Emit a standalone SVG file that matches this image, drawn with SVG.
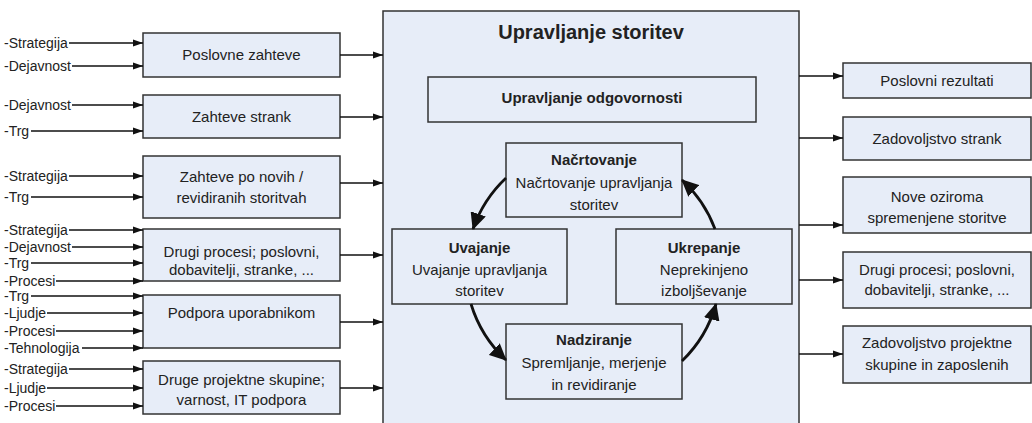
<svg xmlns="http://www.w3.org/2000/svg" width="1032" height="423" viewBox="0 0 1032 423">
<defs>
<style>
.box{fill:#e7edf8;stroke:#333;stroke-width:1.5}
.t{font-family:"Liberation Sans",Arial,sans-serif;font-size:15px;fill:#222;text-anchor:middle}
.b{font-weight:bold}
.lbl{font-family:"Liberation Sans",Arial,sans-serif;font-size:14px;fill:#222}
.ln{stroke:#111;stroke-width:1.3;fill:none;marker-end:url(#ah)}
.cv{stroke:#111;stroke-width:2.8;fill:none;marker-end:url(#ahb)}
</style>
<marker id="ah" markerWidth="10" markerHeight="8" refX="10" refY="4" orient="auto" markerUnits="userSpaceOnUse"><path d="M0,0.5 L10,4 L0,7.5 z" fill="#111"/></marker>
<marker id="ahb" markerWidth="17" markerHeight="16" refX="16" refY="8" orient="auto" markerUnits="userSpaceOnUse"><path d="M0,0 L17,8 L0,16 z" fill="#111"/></marker>
</defs>
<rect width="1032" height="423" fill="#fff"/>

<g id="main">
<rect class="box" x="383" y="11" width="416" height="420"/>
<text class="t b" x="591" y="39" style="font-size:20px">Upravljanje storitev</text>
</g>

<g id="odgovornost">
<rect class="box" x="428" y="77" width="328" height="45"/>
<text class="t b" x="592" y="103">Upravljanje odgovornosti</text>
</g>

<g id="nacrtovanje">
<rect class="box" x="506" y="143" width="176" height="74"/>
<text class="t b" x="594" y="165">Načrtovanje</text>
<text class="t" x="594" y="188">Načrtovanje upravljanja</text>
<text class="t" x="594" y="210">storitev</text>
</g>

<g id="uvajanje">
<rect class="box" x="392" y="229" width="175" height="75"/>
<text class="t b" x="479.5" y="253">Uvajanje</text>
<text class="t" x="479.5" y="275">Uvajanje upravljanja</text>
<text class="t" x="479.5" y="296">storitev</text>
</g>

<g id="ukrepanje">
<rect class="box" x="616" y="229" width="176" height="75"/>
<text class="t b" x="704" y="253">Ukrepanje</text>
<text class="t" x="704" y="275">Neprekinjeno</text>
<text class="t" x="704" y="296">izboljševanje</text>
</g>

<g id="nadziranje">
<rect class="box" x="506" y="324" width="176" height="75"/>
<text class="t b" x="594" y="345">Nadziranje</text>
<text class="t" x="594" y="368">Spremljanje, merjenje</text>
<text class="t" x="594" y="390">in revidiranje</text>
</g>

<g id="in1">
<rect class="box" x="143" y="33" width="197" height="44"/>
<text class="t" x="241.5" y="60">Poslovne zahteve</text>
</g>
<g id="in2">
<rect class="box" x="143" y="95" width="197" height="43"/>
<text class="t" x="241.5" y="122">Zahteve strank</text>
</g>
<g id="in3">
<rect class="box" x="143" y="156" width="197" height="62"/>
<text class="t" x="241.5" y="182">Zahteve po novih /</text>
<text class="t" x="241.5" y="203">revidiranih storitvah</text>
</g>
<g id="in4">
<rect class="box" x="143" y="229" width="197" height="52"/>
<text class="t" x="241.5" y="257">Drugi procesi; poslovni,</text>
<text class="t" x="241.5" y="275">dobavitelji, stranke, ...</text>
</g>
<g id="in5">
<rect class="box" x="143" y="295" width="197" height="53"/>
<text class="t" x="241.5" y="318">Podpora uporabnikom</text>
</g>
<g id="in6">
<rect class="box" x="143" y="361" width="197" height="53"/>
<text class="t" x="241.5" y="385">Druge projektne skupine;</text>
<text class="t" x="241.5" y="405">varnost, IT podpora</text>
</g>

<g id="out1">
<rect class="box" x="843" y="63" width="188" height="35"/>
<text class="t" x="937" y="86">Poslovni rezultati</text>
</g>
<g id="out2">
<rect class="box" x="843" y="117" width="188" height="43"/>
<text class="t" x="937" y="144">Zadovoljstvo strank</text>
</g>
<g id="out3">
<rect class="box" x="843" y="177" width="188" height="56"/>
<text class="t" x="937" y="202">Nove oziroma</text>
<text class="t" x="937" y="223">spremenjene storitve</text>
</g>
<g id="out4">
<rect class="box" x="843" y="252" width="188" height="56"/>
<text class="t" x="937" y="275">Drugi procesi; poslovni,</text>
<text class="t" x="937" y="295">dobavitelji, stranke, ...</text>
</g>
<g id="out5">
<rect class="box" x="843" y="326" width="188" height="57"/>
<text class="t" x="937" y="348">Zadovoljstvo projektne</text>
<text class="t" x="937" y="370">skupine in zaposlenih</text>
</g>

<g id="labels">
<text class="lbl" x="4" y="48">-Strategija</text>
<text class="lbl" x="4" y="71">-Dejavnost</text>
<text class="lbl" x="4" y="110">-Dejavnost</text>
<text class="lbl" x="4" y="136">-Trg</text>
<text class="lbl" x="4" y="181">-Strategija</text>
<text class="lbl" x="4" y="202">-Trg</text>
<text class="lbl" x="4" y="235">-Strategija</text>
<text class="lbl" x="4" y="252">-Dejavnost</text>
<text class="lbl" x="4" y="268">-Trg</text>
<text class="lbl" x="4" y="286">-Procesi</text>
<text class="lbl" x="4" y="301">-Trg</text>
<text class="lbl" x="4" y="318">-Ljudje</text>
<text class="lbl" x="4" y="336">-Procesi</text>
<text class="lbl" x="4" y="353">-Tehnologija</text>
<text class="lbl" x="4" y="374">-Strategija</text>
<text class="lbl" x="4" y="393">-Ljudje</text>
<text class="lbl" x="4" y="411">-Procesi</text>
</g>

<g id="connectors">
<path class="ln" d="M69,43 H143"/>
<path class="ln" d="M72,66 H143"/>
<path class="ln" d="M72,105 H143"/>
<path class="ln" d="M31,131 H143"/>
<path class="ln" d="M69,176 H143"/>
<path class="ln" d="M31,197 H143"/>
<path class="ln" d="M69,230 H143"/>
<path class="ln" d="M72,247 H143"/>
<path class="ln" d="M31,263 H143"/>
<path class="ln" d="M56,281 H143"/>
<path class="ln" d="M31,296 H143"/>
<path class="ln" d="M47,313 H143"/>
<path class="ln" d="M56,331 H143"/>
<path class="ln" d="M82,348 H143"/>
<path class="ln" d="M69,369 H143"/>
<path class="ln" d="M47,388 H143"/>
<path class="ln" d="M56,406 H143"/>

<path class="ln" d="M340,55 H383"/>
<path class="ln" d="M340,117 H383"/>
<path class="ln" d="M340,183 H383"/>
<path class="ln" d="M340,255 H383"/>
<path class="ln" d="M340,322 H383"/>
<path class="ln" d="M340,388 H383"/>

<path class="ln" d="M799,76 H843"/>
<path class="ln" d="M799,138 H843"/>
<path class="ln" d="M799,225 H843"/>
<path class="ln" d="M799,280 H843"/>
<path class="ln" d="M799,354 H843"/>

<path class="cv" d="M506,178 A127,127 0 0 0 473,229"/>
<path class="cv" d="M471,304 A127,127 0 0 0 506,360"/>
<path class="cv" d="M682,361 A127,127 0 0 0 716,304"/>
<path class="cv" d="M715,229 A127,127 0 0 0 682,180"/>
</g>
</svg>
